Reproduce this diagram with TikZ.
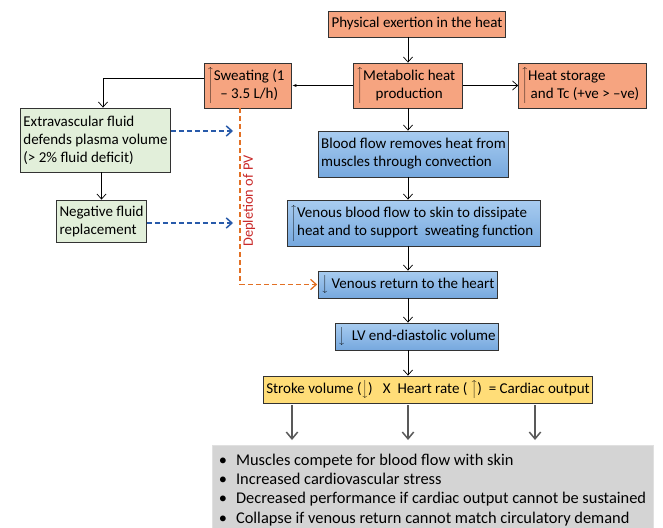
\documentclass[tikz,border=0pt]{standalone}
\usepackage{fontspec}
\setmainfont{Carlito}
\usetikzlibrary{arrows.meta}
\definecolor{salmon}{RGB}{246,164,128}
\definecolor{leaf}{RGB}{226,239,218}
\definecolor{skytop}{RGB}{168,204,240}
\definecolor{skybot}{RGB}{118,168,222}
\definecolor{sun}{RGB}{255,221,120}
\definecolor{ash}{RGB}{212,212,212}
\definecolor{navy}{RGB}{40,90,170}
\definecolor{rust}{RGB}{226,112,36}
\definecolor{brick}{RGB}{200,40,40}
% tall arrow beside a two-line text
\newcommand{\tallup}[2][c]{$\left\uparrow\vcenter{\hbox{\begin{tabular}{@{}#1@{}}#2\end{tabular}}}\right.$\hspace{3pt}}
\tikzset{box/.style={draw=black!80,line width=0.8pt,align=left,font=\fontsize{15}{18}\selectfont,inner sep=3pt,minimum width=#1},
  box/.default=2cm,
  heat/.style={box,fill=salmon},
  fluid/.style={box,fill=leaf},
  flow/.style={box,top color=skytop,bottom color=skybot},
  out/.style={box,fill=sun},
  arr/.style={-{Straight Barb[length=1.8mm,width=3.2mm]},line width=0.7pt},
  fat/.style={-{Straight Barb[length=2.4mm,width=4mm]},line width=1.5pt,draw=black!65},
  loss/.style={-{Straight Barb[length=2mm,width=3.6mm]},line width=1.5pt,dash pattern=on 5pt off 3pt}}

\begin{document}
\begin{tikzpicture}[x=1pt,y=-1pt]
\useasboundingbox (0,0) rectangle (663,527);
\node[heat=192pt,minimum height=26pt] (exert) at (417,24) {Physical exertion in the heat};
\node[heat=128pt,minimum height=45pt] (metab) at (408,85.5) {\tallup{Metabolic heat\\ production}};
\node[heat=102pt,minimum height=45pt] (sweat) at (248,85.5) {\tallup{Sweating (1\\ -- 3.5 L/h)}};
\node[heat=141pt,minimum height=45pt] (store) at (582.5,85.5) {\tallup[l]{Heat storage\\ \,and Tc (+ve > --ve)}};
\node[flow=231pt,minimum height=46pt] (blood) at (413.5,154) {Blood flow removes heat from\\ muscles through convection};
\node[flow=292pt,minimum height=46pt] (venous) at (414,223) {\tallup[l]{Venous blood flow to skin to dissipate\\ heat and to support\ \ sweating function}};
\node[flow=198pt,minimum height=27pt] (ret) at (408,284.5) {$\Big\downarrow$ Venous return to the heart};
\node[flow=180pt,minimum height=27pt] (lv) at (417,336.5) {$\Big\downarrow$\ \ LV end-diastolic volume};
\node[out=388pt,minimum height=27pt] (sv) at (428,389.5) {Stroke volume ($\Big\downarrow$)\ \ \ X\ \ Heart rate (\ $\Big\uparrow$)\ \ = Cardiac output};
\node[fluid=161pt,minimum height=64pt] (extra) at (95.5,140) {Extravascular fluid\\ defends\ plasma volume\\ (> 2\% fluid deficit)};
\node[fluid=103pt,minimum height=42pt] (neg) at (101.5,221) {Negative fluid\\ replacement};
\node[box=441pt,fill=ash,draw=black!12,anchor=north,minimum height=92pt,font=\fontsize{16.4}{19.2}\selectfont] (outc) at (432.5,445) {%
  \textbullet\hspace{0.55em}Muscles compete for blood flow with skin\\
  \textbullet\hspace{0.55em}Increased cardiovascular stress\\
  \textbullet\hspace{0.55em}Decreased performance if cardiac output cannot be sustained\\
  \textbullet\hspace{0.55em}Collapse if venous return cannot match circulatory demand\vspace{3pt}};
\node[rotate=90,text=brick,font=\fontsize{14.4}{16}\selectfont] (dep) at (249,201) {Depletion of PV};

\coordinate (pv) at ([xshift=-8pt]sweat.south);
\coordinate (o1) at (292,0);
\coordinate (o2) at (408,0);
\coordinate (o3) at (535,0);

\draw[arr] (exert.south -| o2) -- (metab.north);
\draw[-{Latex[length=1.5mm]},line width=0.7pt] (metab.west) -- (sweat.east);
\draw[arr] (metab.east) -- (store.west);
\draw[arr] (metab.south) -- (blood.north -| o2);
\draw[arr] (blood.south -| o2) -- (venous.north -| o2);
\draw[arr] (venous.south -| o2) -- (ret.north);
\draw[arr] (ret.south) -- (lv.north -| o2);
\draw[arr] (lv.south -| o2) -- (sv.north -| o2);
\foreach \o in {o1,o2,o3}
  \draw[fat,shorten <=2pt,shorten >=5pt] (sv.south -| \o) -- (outc.north -| \o);

\draw[arr] ([yshift=7.5pt]sweat.west) -| ([xshift=7.5pt]extra.north);
\draw[arr] (neg.north |- extra.south) -- (neg.north);
\draw[loss,draw=navy,shorten >=7pt] ([yshift=9pt]extra.east) -- ([yshift=9pt]extra.east -| pv);
\draw[loss,draw=navy,shorten >=7pt] ([yshift=-2pt]neg.east) -- ([yshift=-2pt]neg.east -| pv);
\draw[loss,draw=rust,line width=1.3pt,shorten >=1pt] (pv) |- (ret.west);
\end{tikzpicture}
\end{document}
